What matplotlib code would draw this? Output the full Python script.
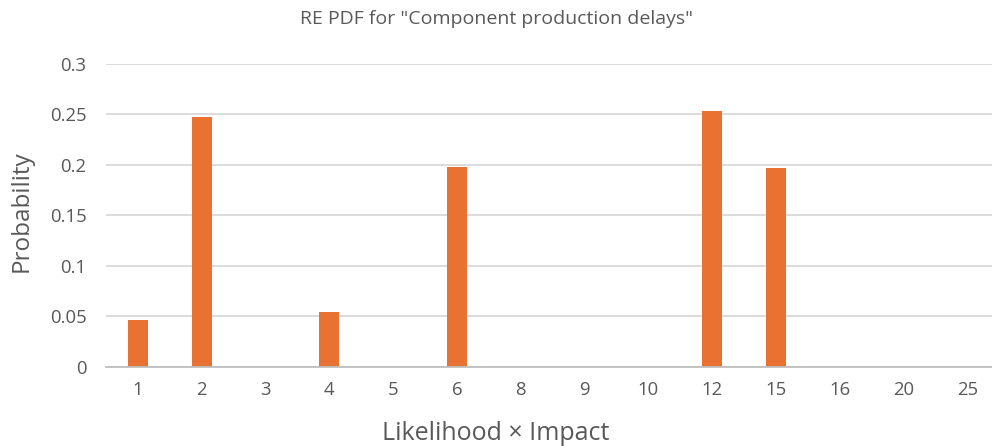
import matplotlib.pyplot as plt
import numpy as np

scores = ["1", "2", "3", "4", "5", "6", "8", "9", "10", "12", "15", "16", "20", "25"]
probability = [0.0461, 0.2470, 0, 0.0543, 0, 0.1983, 0, 0, 0, 0.2535, 0.1964, 0, 0, 0]

plt.rcParams["font.family"] = ["Open Sans", "DejaVu Sans"]

TEXT = "#595959"
ORANGE = "#E97132"


def main():
    fig = plt.figure(figsize=(9.92, 4.46), dpi=100)
    # plot area in pixels: left 106, zero line at y=367, top line at y=63.7
    ax = fig.add_axes([106 / 992, 79 / 446, 886 / 992, 303.3 / 446])

    x = np.arange(len(scores))
    ax.bar(x, probability, width=0.31, color=ORANGE, zorder=3)

    ax.set_xlim(-0.5, -0.5 + 886 / 63.8)
    ax.set_ylim(0, 0.3)
    ax.set_yticks([0, 0.05, 0.1, 0.15, 0.2, 0.25, 0.3])
    ax.set_yticklabels(["0", "0.05", "0.1", "0.15", "0.2", "0.25", "0.3"])
    ax.set_xticks(x)
    ax.set_xticklabels(scores)

    ax.grid(axis="y", color="#D9D9D9", linewidth=1.3, zorder=0)
    for s in ["top", "right", "left"]:
        ax.spines[s].set_visible(False)
    ax.spines["bottom"].set_color("#BFBFBF")
    ax.spines["bottom"].set_linewidth(1.3)
    ax.spines["bottom"].set_zorder(4)

    ax.tick_params(axis="both", length=0, colors=TEXT, labelsize=13.3)
    ax.tick_params(axis="y", pad=14)
    ax.tick_params(axis="x", pad=10)

    fig.text(0.5, 1 - 23.5 / 446, 'RE PDF for "Component production delays"',
             ha="center", va="baseline", fontsize=14, color=TEXT)
    fig.text(0.5, 1 - 440 / 446, "Likelihood × Impact",
             ha="center", va="baseline", fontsize=18, color=TEXT)
    fig.text(22 / 992, 1 - 211 / 446, "Probability", rotation=90,
             ha="center", va="center", fontsize=17.5, color=TEXT)

    fig.savefig("out.png", dpi=100)


if __name__ == "__main__":
    main()
